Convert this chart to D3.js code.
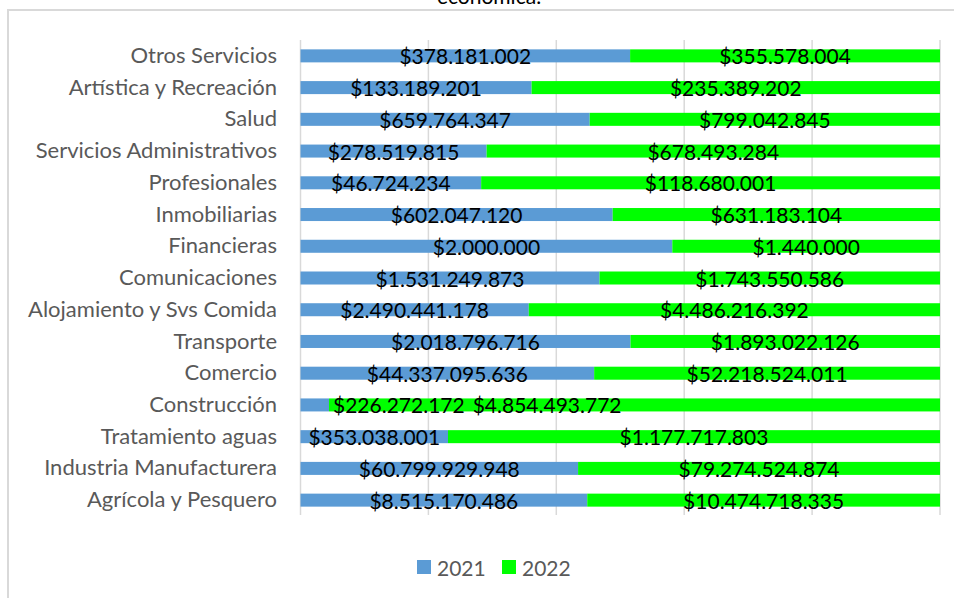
<!DOCTYPE html>
<html><head><meta charset="utf-8">
<script src="https://cdn.jsdelivr.net/npm/d3@7"></script>
<style>body{margin:0;background:#fff}svg{display:block}</style>
</head><body>
<svg id="c" width="954" height="598"></svg>
<script>
const categories = ["Otros Servicios","Artística y Recreación","Salud","Servicios Administrativos","Profesionales","Inmobiliarias","Financieras","Comunicaciones","Alojamiento y Svs Comida","Transporte","Comercio","Construcción","Tratamiento aguas","Industria Manufacturera","Agrícola y Pesquero"];
const values2021 = [378181002,133189201,659764347,278519815,46724234,602047120,2000000,1531249873,2490441178,2018796716,44337095636,226272172,353038001,60799929948,8515170486];
const values2022 = [355578004,235389202,799042845,678493284,118680001,631183104,1440000,1743550586,4486216392,1893022126,52218524011,4854493772,1177717803,79274524874,10474718335];
const seriesNames = ["2021","2022"];
const xTicks = [0,0.2,0.4,0.6,0.8,1];
const titleTail = "económica.";

const colors = ["#5b9bd5","#00ff00"];
const font = "Lato, 'Open Sans', sans-serif";
const svg = d3.select("#c");
const fmt = d3.formatLocale({decimal:",",thousands:".",grouping:[3],currency:["$",""]}).format("$,.0f");

// frame
svg.append("rect").attr("x",8).attr("y",10).attr("width",1000).attr("height",700)
  .attr("fill","none").attr("stroke","#d9d9d9").attr("stroke-width",2);
svg.append("text").attr("x",489).attr("y",4).attr("text-anchor","middle")
  .attr("font-family",font).attr("font-size",21).attr("fill","#000").text(titleTail);

const x = d3.scaleLinear().domain([0,1]).range([300.5,940]);
const y = d3.scaleBand().domain(categories).range([40,516]).paddingInner(0.59).paddingOuter(0.295);

svg.append("g").selectAll("line").data(xTicks).join("line")
  .attr("x1",d=>x(d)).attr("x2",d=>x(d)).attr("y1",40).attr("y2",515)
  .attr("stroke","#d9d9d9").attr("stroke-width",1.5);

const rows = categories.map((c,i)=>{
  const tot = values2021[i]+values2022[i];
  const a = values2021[i]/tot;
  return {c, segs:[{v:values2021[i],x0:0,x1:a,s:0},{v:values2022[i],x0:a,x1:1,s:1}]};
});

const g = svg.append("g");
rows.forEach(r=>{
  g.selectAll(null).data(r.segs).join("rect")
    .attr("x",d=>x(d.x0)).attr("width",d=>x(d.x1)-x(d.x0))
    .attr("y",y(r.c)).attr("height",y.bandwidth()).attr("fill",d=>colors[d.s]);
});

// labels
const labelSize = 21;
rows.forEach(r=>{
  const cy = y(r.c)+y.bandwidth()/2;
  const texts = r.segs.map(d=>g.append("text").attr("font-family",font).attr("font-size",labelSize)
    .attr("fill","#000").attr("dominant-baseline","central").text(fmt(d.v)));
  const w = texts.map(t=>t.node().getComputedTextLength());
  const fits = r.segs.every((d,i)=>w[i] <= x(d.x1)-x(d.x0));
  if (fits) {
    texts.forEach((t,i)=>{const d=r.segs[i]; t.attr("x",(x(d.x0)+x(d.x1))/2).attr("y",cy).attr("text-anchor","middle");});
  } else {
    let pos = x(r.segs[0].x1)+4;
    texts.forEach((t,i)=>{t.attr("x",pos).attr("y",cy).attr("text-anchor","start"); pos += w[i]+8;});
  }
});

// category axis
const ax = svg.append("g").attr("transform","translate(300,0)")
  .call(d3.axisLeft(y).tickSize(0).tickPadding(23));
ax.select(".domain").remove();
ax.selectAll("text").attr("font-family",font).attr("font-size",22).attr("fill","#595959");

// legend
const leg = svg.append("g");
const lx = [417,502];
seriesNames.forEach((n,i)=>{
  leg.append("rect").attr("x",lx[i]).attr("y",560).attr("width",14).attr("height",14).attr("fill",colors[i]);
  leg.append("text").attr("x",lx[i]+20).attr("y",567).attr("dominant-baseline","central")
    .attr("font-family",font).attr("font-size",21).attr("fill","#595959").text(n);
});
</script>
</body></html>
